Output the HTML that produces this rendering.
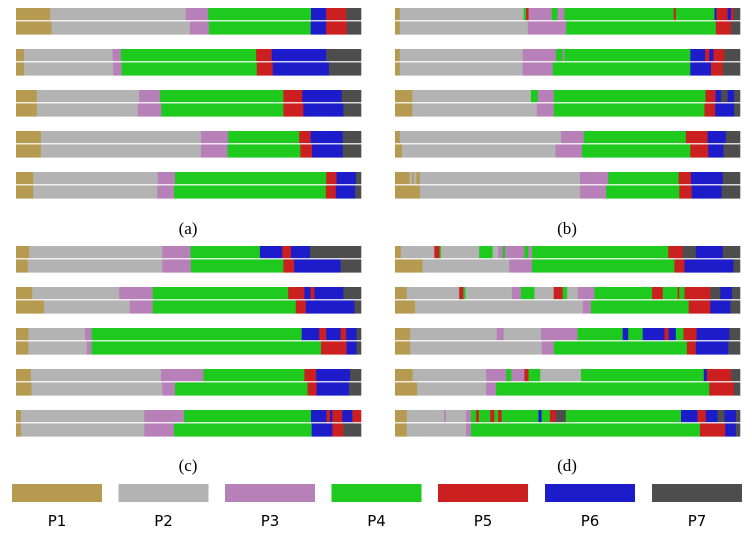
<!DOCTYPE html>
<html><head><meta charset="utf-8"><style>
body{margin:0;background:#fff;width:752px;height:536px;overflow:hidden}
svg{display:block}
.cap{font-family:"Liberation Serif",serif;font-size:17px;fill:#000}
.lab{font-family:"DejaVu Sans","Liberation Sans",sans-serif;font-size:15px;fill:#000}
</style></head><body>
<svg id="chart" width="752" height="536"></svg>
<script>
const categories = ["P1","P2","P3","P4","P5","P6","P7"];
const colors = ["#b59a50","#b3b3b3","#b880b8","#1dca1d","#cc1f1f","#1c1ccb","#4d4d4d"];
const panelLabels = ["(a)","(b)","(c)","(d)"];
// each bar: [category index (1-based), cumulative end %]
const panelA = [
 [[1,9.9],[2,49.2],[3,55.7],[4,85.5],[6,89.9],[5,95.7],[7,100]],
 [[1,10.3],[2,50.4],[3,55.9],[4,85.4],[6,89.9],[5,95.9],[7,100]],
 [[1,2.3],[2,28.0],[3,30.4],[4,69.6],[5,74.1],[6,89.9],[7,100]],
 [[1,2.3],[2,28.2],[3,30.6],[4,69.8],[5,74.4],[6,90.7],[7,100]],
 [[1,6.0],[2,35.7],[3,41.7],[4,77.5],[5,83.0],[6,94.4],[7,100]],
 [[1,6.0],[2,35.3],[3,42.1],[4,77.5],[5,83.3],[6,94.9],[7,100]],
 [[1,7.2],[2,53.6],[3,61.5],[4,82.1],[5,85.4],[6,94.7],[7,100]],
 [[1,7.2],[2,53.6],[3,61.3],[4,82.4],[5,85.8],[6,94.7],[7,100]],
 [[1,5.0],[2,41.1],[3,46.1],[4,89.9],[5,92.9],[6,98.5],[7,100]],
 [[1,5.0],[2,41.0],[3,45.8],[4,89.8],[5,92.7],[6,98.3],[7,100]]
];
const panelB = [
 [[1,1.4],[2,37.3],[4,38.0],[5,38.7],[3,45.4],[4,47.1],[3,49.1],[4,80.8],[5,81.4],[4,92.6],[6,93.2],[5,96.4],[6,97.4],[5,98.1],[7,100]],
 [[1,1.4],[2,38.5],[3,49.6],[4,93.0],[5,97.4],[7,100]],
 [[1,1.4],[2,37.0],[3,46.7],[4,48.6],[3,49.1],[4,85.6],[6,89.9],[5,91.1],[6,92.3],[5,95.5],[7,100]],
 [[1,1.4],[2,37.0],[3,45.7],[4,85.6],[6,91.6],[5,95.0],[7,100]],
 [[1,5.0],[2,39.4],[4,41.4],[3,46.0],[4,90.0],[5,92.9],[6,94.5],[7,96.4],[6,98.3],[7,100]],
 [[1,5.0],[2,41.1],[3,46.0],[4,89.7],[5,92.8],[6,98.3],[7,100]],
 [[1,1.4],[2,48.1],[3,54.7],[4,84.3],[5,90.6],[6,95.9],[7,100]],
 [[1,2.0],[2,46.5],[3,54.2],[4,85.6],[5,90.8],[6,95.2],[7,100]],
 [[1,4.2],[2,4.9],[1,5.4],[2,6.2],[1,7.2],[2,53.6],[3,61.8],[4,82.2],[5,85.8],[6,95.0],[7,100]],
 [[1,7.2],[2,53.6],[3,61.2],[4,82.4],[5,86.0],[6,94.7],[7,100]]
];
const panelC = [
 [[1,3.8],[2,42.4],[3,50.6],[4,70.7],[6,77.2],[5,79.7],[6,85.2],[7,100]],
 [[1,3.4],[2,42.4],[3,50.7],[4,77.5],[5,80.6],[6,94.1],[7,100]],
 [[1,4.7],[2,29.9],[3,39.6],[4,78.9],[5,83.6],[6,85.4],[5,86.5],[6,94.9],[7,100]],
 [[1,8.1],[2,33.0],[3,39.6],[4,81.1],[5,84.0],[6,98.1],[7,100]],
 [[1,3.6],[2,20.0],[3,21.9],[4,82.8],[6,87.9],[5,89.9],[6,94.1],[5,95.7],[6,98.7],[7,100]],
 [[1,3.6],[2,20.5],[3,21.9],[4,88.4],[5,95.8],[6,98.7],[7,100]],
 [[1,4.3],[2,42.0],[3,54.3],[4,83.6],[5,87.0],[6,96.8],[7,100]],
 [[1,4.5],[2,42.4],[3,46.1],[4,84.5],[5,87.1],[6,96.5],[7,100]],
 [[1,1.4],[2,37.2],[3,48.7],[4,85.5],[6,90.0],[5,91.0],[6,91.7],[5,94.6],[6,97.5],[5,100]],
 [[1,1.4],[2,37.2],[3,45.8],[4,85.7],[6,91.7],[5,94.9],[7,100]]
];
const panelD = [
 [[1,1.7],[2,11.4],[5,12.9],[4,13.3],[2,24.4],[4,28.3],[2,29.9],[3,31.2],[4,31.9],[3,37.5],[4,38.7],[3,39.7],[4,79.2],[5,83.4],[7,87.2],[6,95.0],[7,100]],
 [[1,8.0],[2,33.1],[3,39.7],[4,81.0],[5,83.9],[6,98.1],[7,100]],
 [[1,3.4],[2,18.6],[5,19.8],[4,20.4],[2,33.9],[3,36.5],[4,40.4],[2,46.0],[5,48.6],[4,49.9],[2,53.0],[3,57.8],[4,74.5],[5,77.6],[4,81.9],[5,82.4],[4,83.9],[5,91.4],[7,94.3],[6,97.7],[7,100]],
 [[1,5.8],[2,54.4],[3,56.8],[4,85.1],[5,91.4],[6,97.2],[7,100]],
 [[1,4.4],[2,29.5],[3,31.5],[2,42.3],[3,52.9],[4,66.0],[6,67.6],[4,71.8],[6,78.1],[5,79.3],[6,81.4],[4,83.6],[5,87.4],[6,96.9],[7,100]],
 [[1,4.4],[2,42.5],[3,46.0],[4,84.6],[5,87.2],[6,96.6],[7,100]],
 [[1,5.1],[2,26.4],[3,32.2],[4,33.7],[3,37.5],[5,38.7],[4,42.1],[2,53.9],[4,89.5],[6,90.4],[5,97.4],[7,100]],
 [[1,6.4],[2,26.4],[3,29.3],[4,91.1],[5,98.2],[7,100]],
 [[1,3.4],[2,14.3],[3,14.8],[2,20.6],[3,22.0],[4,23.5],[5,24.3],[4,27.6],[5,28.8],[4,29.9],[5,30.9],[4,41.6],[6,42.5],[4,44.9],[5,46.6],[7,49.5],[4,82.9],[6,87.7],[5,90.1],[6,93.5],[7,95.5],[6,98.8],[7,100]],
 [[1,3.4],[2,20.6],[3,22.0],[4,88.4],[5,95.7],[6,98.8],[7,100]]
];
const panels = [panelA, panelB, panelC, panelD];

const svg = document.getElementById('chart');
const NS = 'http://www.w3.org/2000/svg';
const panelX = [16, 395, 16, 395];
const panelY = [8, 8, 246, 246];
const panelW = 345;
const capX = [188, 567, 188, 567];
const capY = [234, 234, 471, 471];
function xScale(p, v){ return panelX[p] + v / 100 * panelW; }
function barY(p, i){ return panelY[p] + Math.floor(i/2)*41 + (i%2 ? 13.4 : 0); }
const barH = [12.2, 13.2];

panels.forEach((bars, p) => {
  const g = document.createElementNS(NS, 'g');
  
  
  svg.appendChild(g);
  bars.forEach((segs, i) => {
    let start = 0;
    segs.forEach(([c, end]) => {
      const r = document.createElementNS(NS, 'rect');
      
      
      r.setAttribute('x', xScale(p, start));
      r.setAttribute('width', Math.max(0, xScale(p, end) - xScale(p, start)) + 0.3);
      r.setAttribute('y', barY(p, i));
      r.setAttribute('height', barH[i%2]);
      r.setAttribute('fill', colors[c-1]);
      g.appendChild(r);
      start = end;
    });
  });
  const t = document.createElementNS(NS, 'text');
  
  
  t.setAttribute('x', capX[p]);
  t.setAttribute('y', capY[p]);
  t.setAttribute('text-anchor', 'middle');
  t.setAttribute('class', 'cap');
  t.textContent = panelLabels[p];
  svg.appendChild(t);
});

const legX = [12, 118.5, 225, 331.5, 438, 545, 652];
categories.forEach((c, k) => {
  const r = document.createElementNS(NS, 'rect');
  
  
  r.setAttribute('x', legX[k]);
  r.setAttribute('y', 484);
  r.setAttribute('width', 90);
  r.setAttribute('height', 18);
  r.setAttribute('fill', colors[k]);
  svg.appendChild(r);
  const t = document.createElementNS(NS, 'text');
  
  
  t.setAttribute('x', legX[k] + 45);
  t.setAttribute('y', 526);
  t.setAttribute('text-anchor', 'middle');
  t.setAttribute('class', 'lab');
  t.textContent = c;
  svg.appendChild(t);
});
</script>
</body></html>
